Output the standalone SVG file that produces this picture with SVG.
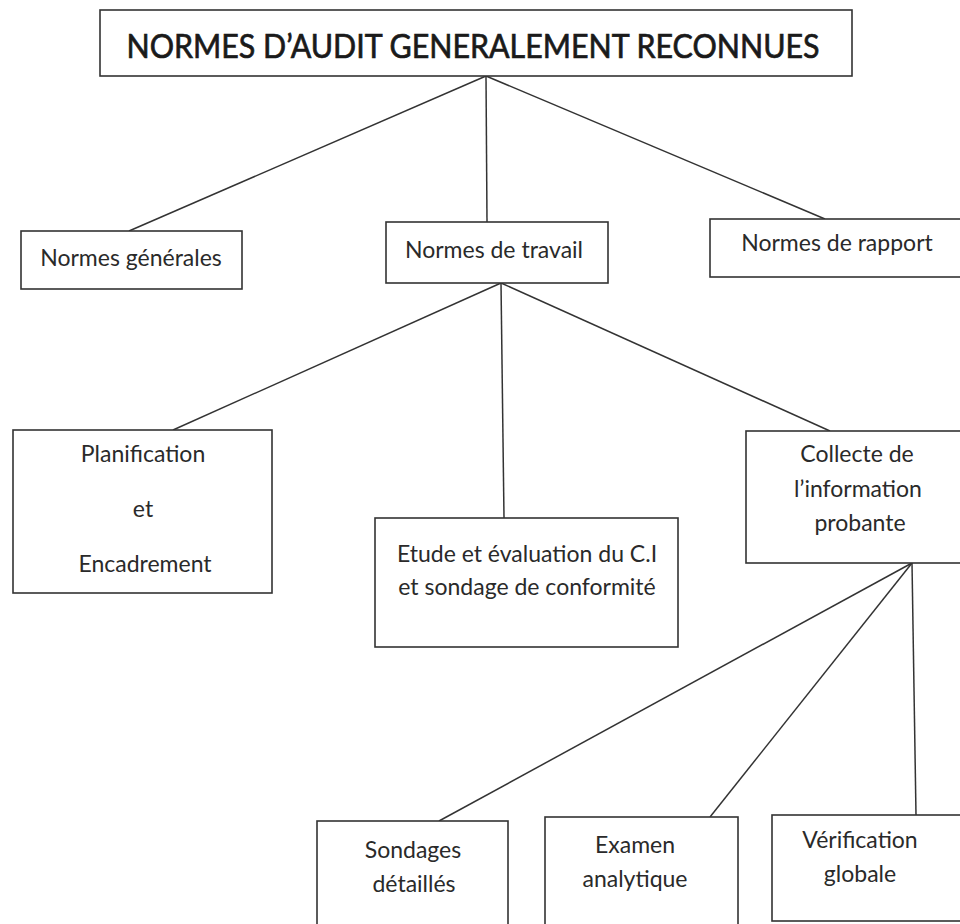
<svg xmlns="http://www.w3.org/2000/svg" width="960" height="924" viewBox="0 0 960 924">
<style>
.box{fill:#ffffff;stroke:#333333;stroke-width:1.6}
.ln{stroke:#333333;stroke-width:1.5;fill:none}
.t{font-family:Lato,"Liberation Sans",sans-serif;font-size:23px;fill:#2a2a2a;text-anchor:middle}
.title{font-family:Lato,"Liberation Sans",sans-serif;font-size:33px;fill:#1a1a1a;stroke:#1a1a1a;stroke-width:0.7;text-anchor:middle}
</style>
<rect x="0" y="0" width="960" height="924" fill="#ffffff"/>
<g id="connectors">
<line class="ln" x1="486" y1="76" x2="129" y2="231"/>
<line class="ln" x1="486" y1="76" x2="487" y2="222"/>
<line class="ln" x1="486" y1="76" x2="825" y2="219"/>
<line class="ln" x1="501" y1="283" x2="173" y2="430"/>
<line class="ln" x1="501" y1="283" x2="504" y2="518"/>
<line class="ln" x1="501" y1="283" x2="830" y2="431"/>
<line class="ln" x1="912" y1="563" x2="439" y2="821"/>
<line class="ln" x1="912" y1="563" x2="710" y2="817"/>
<line class="ln" x1="912" y1="563" x2="916" y2="815"/>
</g>
<g id="root">
<rect class="box" x="100" y="10" width="752" height="66"/>
<text class="title" x="473" y="58" textLength="693" lengthAdjust="spacingAndGlyphs">NORMES D’AUDIT GENERALEMENT RECONNUES</text>
</g>
<g id="normes-generales">
<rect class="box" x="21" y="231" width="221" height="58"/>
<text class="t" x="131" y="266">Normes générales</text>
</g>
<g id="normes-travail">
<rect class="box" x="386" y="222" width="222" height="61"/>
<text class="t" x="494" y="258">Normes de travail</text>
</g>
<g id="normes-rapport">
<rect class="box" x="710" y="219" width="260" height="58"/>
<text class="t" x="837" y="251">Normes de rapport</text>
</g>
<g id="planification">
<rect class="box" x="13" y="430" width="259" height="163"/>
<text class="t" x="143" y="462">Planification</text>
<text class="t" x="143" y="517">et</text>
<text class="t" x="145" y="572">Encadrement</text>
</g>
<g id="etude">
<rect class="box" x="375" y="518" width="303" height="129"/>
<text class="t" x="527" y="562">Etude et évaluation du C.I</text>
<text class="t" x="527" y="595">et sondage de conformité</text>
</g>
<g id="collecte">
<rect class="box" x="746" y="431" width="224" height="132"/>
<text class="t" x="857" y="462">Collecte de</text>
<text class="t" x="858" y="497">l’information</text>
<text class="t" x="860" y="531">probante</text>
</g>
<g id="sondages">
<rect class="box" x="317" y="821" width="191" height="112"/>
<text class="t" x="413" y="858">Sondages</text>
<text class="t" x="414" y="892">détaillés</text>
</g>
<g id="examen">
<rect class="box" x="545" y="817" width="193" height="116"/>
<text class="t" x="635" y="853">Examen</text>
<text class="t" x="635" y="887">analytique</text>
</g>
<g id="verification">
<rect class="box" x="772" y="815" width="198" height="106"/>
<text class="t" x="860" y="848">Vérification</text>
<text class="t" x="860" y="882">globale</text>
</g>
</svg>
